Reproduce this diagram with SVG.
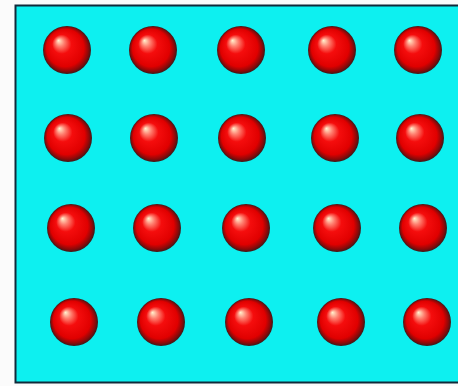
<svg xmlns="http://www.w3.org/2000/svg" width="458" height="386" viewBox="0 0 458 386">
<defs>
<radialGradient id="ball" cx="0.5" cy="0.5" r="0.5" fx="0.32" fy="0.3">
<stop offset="0" stop-color="#fff4d0"/>
<stop offset="0.18" stop-color="#ff8070"/>
<stop offset="0.4" stop-color="#f50d0d"/>
<stop offset="0.78" stop-color="#e00000"/>
<stop offset="0.92" stop-color="#8a0a0a"/>
<stop offset="1" stop-color="#3a1a1a"/>
</radialGradient>
<style>
.b{fill:url(#ball)}
</style>
</defs>
<rect x="0" y="0" width="458" height="386" fill="#fbfbfb"/>
<rect x="15.5" y="5.5" width="450" height="377" fill="#0df0f0" stroke="#102a3a" stroke-width="2"/>
<g id="spheres">
<circle class="b" cx="67" cy="50" r="24"/>
<circle class="b" cx="153" cy="50" r="24"/>
<circle class="b" cx="241" cy="50" r="24"/>
<circle class="b" cx="332" cy="50" r="24"/>
<circle class="b" cx="418" cy="50" r="24"/>
<circle class="b" cx="68" cy="138" r="24"/>
<circle class="b" cx="154" cy="138" r="24"/>
<circle class="b" cx="242" cy="138" r="24"/>
<circle class="b" cx="335" cy="138" r="24"/>
<circle class="b" cx="420" cy="138" r="24"/>
<circle class="b" cx="71" cy="228" r="24"/>
<circle class="b" cx="157" cy="228" r="24"/>
<circle class="b" cx="246" cy="228" r="24"/>
<circle class="b" cx="337" cy="228" r="24"/>
<circle class="b" cx="423" cy="228" r="24"/>
<circle class="b" cx="74" cy="322" r="24"/>
<circle class="b" cx="161" cy="322" r="24"/>
<circle class="b" cx="249" cy="322" r="24"/>
<circle class="b" cx="341" cy="322" r="24"/>
<circle class="b" cx="427" cy="322" r="24"/>
</g>
</svg>
